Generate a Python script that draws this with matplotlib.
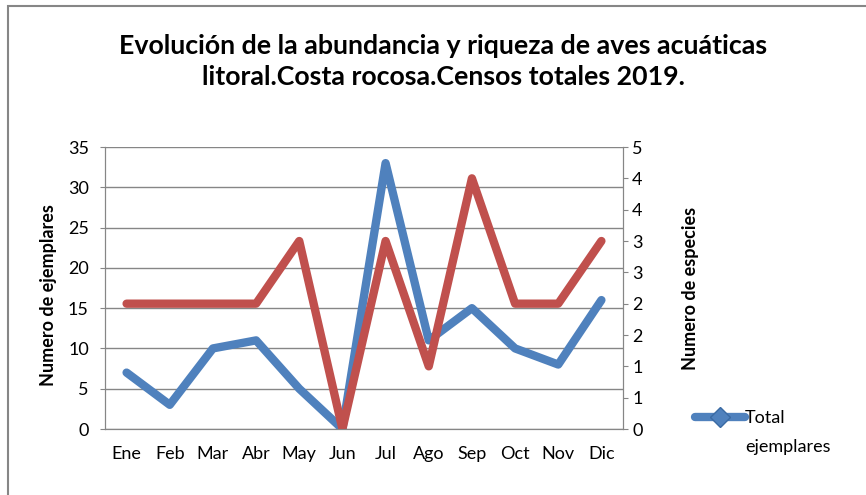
import math
import matplotlib
matplotlib.use("Agg")
import matplotlib.pyplot as plt
from matplotlib.lines import Line2D
from matplotlib.patches import Rectangle
from matplotlib.ticker import FixedLocator, FuncFormatter

# datos
meses = ["Ene", "Feb", "Mar", "Abr", "May", "Jun", "Jul", "Ago", "Sep", "Oct", "Nov", "Dic"]
ejemplares = [7, 3, 10, 11, 5, 0, 33, 11, 15, 10, 8, 16]
especies = [2, 2, 2, 2, 3, 0, 3, 1, 4, 2, 2, 3]

titulo = "Evolución de la abundancia y riqueza de aves acuáticas\nlitoral.Costa rocosa.Censos totales 2019."
azul = "#4F81BD"
rojo = "#C0504D"
gris = "#868686"

plt.rcParams["font.family"] = ["Lato", "DejaVu Sans"]

fig = plt.figure(figsize=(8.66, 4.95), dpi=100)
fig.patches.append(Rectangle((8 / 866, -0.1), 1.2, 1.1 - 6 / 495, transform=fig.transFigure,
                             fill=False, edgecolor=gris, linewidth=1.5))

ax = fig.add_axes([105 / 866, 66 / 495, 518 / 866, 282 / 495])
x = range(len(meses))
ax.plot(x, ejemplares, color=azul, linewidth=6, solid_capstyle="round", solid_joinstyle="round", zorder=3)
ax.set_xlim(-0.5, len(meses) - 0.5)
ax.set_ylim(0, 35)
ax.set_yticks(range(0, 36, 5))
ax.set_xticks(list(x))
ax.set_xticklabels(meses)
ax.grid(axis="y", color=gris, linewidth=1)
ax.set_axisbelow(True)
for s in ax.spines.values():
    s.set_color(gris)
ax.spines["top"].set_visible(False)
ax.tick_params(axis="x", length=0, labelsize=13, pad=12)
ax.tick_params(axis="y", length=3.6, color=gris, labelsize=13, pad=8)
ax.set_ylabel("Numero de ejemplares", fontsize=13, fontweight="bold")
ax.yaxis.set_label_coords(-0.093, 0.475)

ax2 = ax.twinx()
ax2.plot(x, especies, color=rojo, linewidth=6, solid_capstyle="round", solid_joinstyle="round")
ax2.set_ylim(0, 4.5)
ax2.yaxis.set_major_locator(FixedLocator([i * 0.5 for i in range(10)]))
ax2.yaxis.set_major_formatter(FuncFormatter(lambda v, p: str(int(math.floor(v + 0.5)))))
for s in ax2.spines.values():
    s.set_color(gris)
ax2.spines["top"].set_visible(False)
ax2.tick_params(axis="y", length=3.6, color=gris, labelsize=13, pad=3)
ax2.set_ylabel("Numero de especies", fontsize=13, fontweight="bold")
ax2.yaxis.set_label_coords(1.113, 0.5)

fig.text(0.512, 0.875, titulo, ha="center", va="center", fontsize=19.3, fontweight="bold", linespacing=1.35)

h = Line2D([], [], color=azul, linewidth=6, marker="D", markersize=10,
           markerfacecolor=azul, markeredgecolor="#3a6aa3", solid_capstyle="round")
fig.legend([h], ["Total"], loc="center left", bbox_to_anchor=(0.802, 1 - 418 / 495),
           frameon=False, fontsize=13, handlelength=2.8, handletextpad=0.0, borderaxespad=0,
           borderpad=0)
fig.text(745 / 866, 1 - 447 / 495, "ejemplares", ha="left", va="center", fontsize=13)

fig.savefig("out.png", dpi=100)
